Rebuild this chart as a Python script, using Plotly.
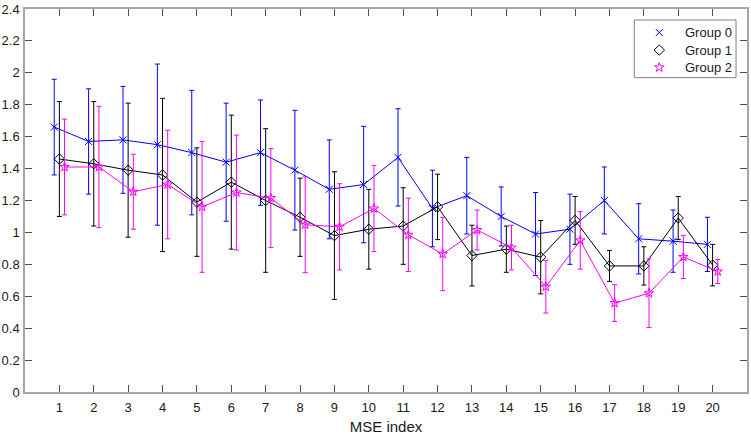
import plotly.graph_objects as go

idx = list(range(1, 21))

g0_mean = [1.66, 1.57, 1.58, 1.55, 1.50, 1.44, 1.50, 1.39, 1.27, 1.30,
           1.47, 1.15, 1.23, 1.10, 0.99, 1.02, 1.20, 0.96, 0.945, 0.925]
g0_err = [0.30, 0.33, 0.335, 0.505, 0.39, 0.37, 0.33, 0.375, 0.31, 0.365,
          0.305, 0.24, 0.24, 0.185, 0.26, 0.22, 0.21, 0.22, 0.195, 0.17]

g1_mean = [1.46, 1.43, 1.39, 1.36, 1.19, 1.315, 1.20, 1.095, 0.98, 1.02,
           1.04, 1.16, 0.855, 0.895, 0.845, 1.075, 0.79, 0.79, 1.09, 0.795]
g1_err = [0.36, 0.39, 0.42, 0.48, 0.34, 0.42, 0.45, 0.245, 0.40, 0.25,
          0.24, 0.205, 0.19, 0.145, 0.23, 0.15, 0.097, 0.12, 0.135, 0.13]

g2_mean = [1.41, 1.41, 1.255, 1.30, 1.16, 1.25, 1.215, 1.048, 1.035, 1.15,
           0.985, 0.865, 1.015, 0.905, 0.66, 0.95, 0.557, 0.619, 0.846, 0.755]
g2_err = [0.30, 0.38, 0.235, 0.34, 0.41, 0.36, 0.31, 0.30, 0.27, 0.27,
          0.23, 0.23, 0.125, 0.14, 0.165, 0.18, 0.115, 0.215, 0.135, 0.075]

names = ["Group 0", "Group 1", "Group 2"]
offsets = [-0.15, 0.0, 0.15]
colors = ["#0000FF", "#000000", "#FF00FF"]
symbols = ["x-thin", "diamond-open", "star-open"]
sizes = [7, 8, 7]
means = [g0_mean, g1_mean, g2_mean]
errs = [g0_err, g1_err, g2_err]

fig = go.Figure()
for k in range(3):
    xs = [i + offsets[k] for i in idx]
    fig.add_trace(go.Scatter(
        x=xs, y=means[k], mode="lines+markers", name=names[k], showlegend=False,
        line=dict(color=colors[k], width=1),
        marker=dict(symbol=symbols[k], size=sizes[k], color=colors[k],
                    line=dict(color=colors[k], width=1)),
        error_y=dict(type="data", array=errs[k], visible=True,
                     color=colors[k], thickness=1, width=2.5),
    ))

# Manual legend (box, markers on an overlay axis in [0,1], text annotations)
leg_x0, leg_x1, leg_y0, leg_y1 = 0.8439, 0.9848, 0.8208, 0.9714
leg_mx = 0.8785
leg_tx = 0.9116
leg_rows = [0.9384, 0.8927, 0.8475]

fig.add_shape(type="rect", xref="paper", yref="paper",
              x0=leg_x0, x1=leg_x1, y0=leg_y0, y1=leg_y1,
              line=dict(color="#808080", width=1), fillcolor="white", layer="below")
for k in range(3):
    fig.add_trace(go.Scatter(
        x=[leg_mx], y=[leg_rows[k]], mode="markers", xaxis="x2", yaxis="y2",
        showlegend=False, hoverinfo="skip",
        marker=dict(symbol=symbols[k], size=sizes[k], color=colors[k],
                    line=dict(color=colors[k], width=1)),
    ))
    fig.add_annotation(x=leg_tx, y=leg_rows[k], xref="paper", yref="paper",
                       text=names[k], showarrow=False, xanchor="left",
                       yanchor="middle", font=dict(size=13, color="#1a1a1a"))

axis_common = dict(
    showline=True, linecolor="#a6a6a6", linewidth=1.5, mirror="ticks",
    ticks="inside", ticklen=7, tickcolor="#4d4d4d", tickwidth=1,
    showgrid=False, zeroline=False, ticklabeloverflow="allow",
    tickfont=dict(size=13, color="#1a1a1a"),
)

fig.update_layout(
    width=751, height=439,
    margin=dict(l=25, r=2, t=7, b=47),
    paper_bgcolor="white", plot_bgcolor="white",
    showlegend=False,
    font=dict(family="Liberation Sans, Arial, sans-serif", color="#1a1a1a"),
    xaxis=dict(range=[0, 21], tickvals=idx, ticktext=[str(i) for i in idx],
               ticklabelstandoff=3,
               title=dict(text="MSE index", font=dict(size=15), standoff=7),
               **axis_common),
    yaxis=dict(range=[0, 2.4], dtick=0.2, tick0=0, ticklabelstandoff=1,
               **axis_common),
    xaxis2=dict(range=[0, 1], overlaying="x", anchor="y2", visible=False),
    yaxis2=dict(range=[0, 1], overlaying="y", anchor="x2", visible=False),
)

fig.write_html("out.html", config={"displayModeBar": False},
               post_script="document.body.style.margin='0';")
